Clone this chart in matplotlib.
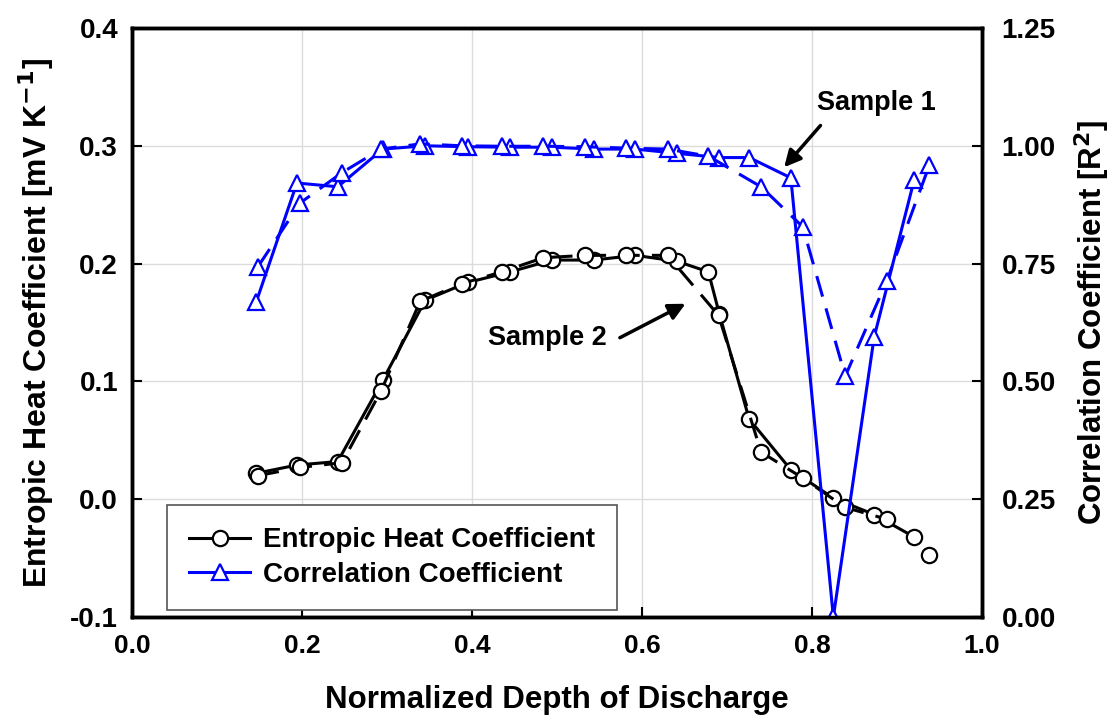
import numpy as np
import matplotlib
matplotlib.use('Agg')
import matplotlib.pyplot as plt
from matplotlib.lines import Line2D

plt.rcParams['font.family'] = ['Liberation Sans', 'DejaVu Sans']

# depth of discharge, sample 1 (solid) and sample 2 (dashed)
dod1 = [0.146, 0.194, 0.242, 0.295, 0.345, 0.395, 0.445, 0.494, 0.543, 0.592,
        0.641, 0.678, 0.691, 0.726, 0.775, 0.825, 0.873, 0.920]
ent1 = [0.022, 0.029, 0.032, 0.101, 0.169, 0.184, 0.193, 0.203, 0.203, 0.207,
        0.202, 0.193, 0.157, 0.068, 0.025, 0.001, -0.013, -0.032]

dod2 = [0.148, 0.198, 0.247, 0.293, 0.339, 0.388, 0.435, 0.484, 0.533, 0.581,
        0.630, 0.690, 0.740, 0.789, 0.839, 0.888, 0.913, 0.938]
ent2 = [0.020, 0.027, 0.031, 0.092, 0.168, 0.183, 0.193, 0.205, 0.207, 0.207,
        0.207, 0.156, 0.040, 0.018, -0.007, -0.017, np.nan, -0.047]

dod_r1 = [0.146, 0.194, 0.242, 0.295, 0.345, 0.395, 0.445, 0.494, 0.543, 0.592,
          0.641, 0.691, 0.726, 0.775, 0.825, 0.873, 0.920]
r2_1 = [0.668, 0.921, 0.913, 0.993, 1.000, 0.998, 0.997, 0.997, 0.993, 0.993,
        0.984, 0.975, 0.975, 0.932, 0.000, 0.594, 0.927]

dod_r2 = [0.148, 0.198, 0.247, 0.293, 0.339, 0.388, 0.435, 0.484, 0.533, 0.581,
          0.630, 0.678, 0.740, 0.789, 0.839, 0.888, 0.938]
r2_2 = [0.743, 0.879, 0.943, 0.993, 1.004, 1.000, 0.999, 0.999, 0.998, 0.995,
        0.993, 0.978, 0.913, 0.828, 0.511, 0.714, 0.959]

xticks = [0.0, 0.2, 0.4, 0.6, 0.8, 1.0]
yticks = [-0.1, 0.0, 0.1, 0.2, 0.3, 0.4]
rticks = [0.0, 0.25, 0.5, 0.75, 1.0, 1.25]

fig = plt.figure(figsize=(11.12, 7.21), dpi=100)
ax = fig.add_axes([0.1187, 0.1442, 0.7645, 0.817])
ax2 = ax.twinx()

mk = dict(markersize=11, markeredgewidth=1.6, markerfacecolor='white')
ax.plot(dod1, ent1, '-', color='black', lw=2.2, marker='o', markeredgecolor='black', **mk)
ax.plot(dod2, ent2, '--', color='black', lw=2.2, dashes=(7, 4), marker='o', markeredgecolor='black', **mk)
ax2.plot(dod_r1, r2_1, '-', color='blue', lw=2.2, marker='^', markeredgecolor='blue', **mk)
ax2.plot(dod_r2, r2_2, '--', color='blue', lw=2.2, dashes=(7, 4), marker='^', markeredgecolor='blue', **mk)

ax.set_xlim(0, 1)
ax.set_ylim(-0.1, 0.4)
ax2.set_ylim(0, 1.25)
ax.set_xticks(xticks)
ax.set_yticks(yticks)
ax2.set_yticks(rticks)
ax.set_xticklabels(['%.1f' % v for v in xticks], fontsize=19, fontweight='bold')
ax.set_yticklabels(['%.1f' % v for v in yticks], fontsize=20, fontweight='bold')
ax2.set_yticklabels(['%.2f' % v for v in rticks], fontsize=20, fontweight='bold')

ax.grid(True, color='#dcdcdc', lw=1)
ax.set_axisbelow(True)

for a in (ax, ax2):
    for s in a.spines.values():
        s.set_linewidth(2.5)
    a.tick_params(direction='in', length=7, width=1.5)
ax.tick_params(axis='y', right=False, pad=10)
ax.tick_params(axis='x', pad=12)
ax2.tick_params(axis='y', left=False, pad=14)

ax.set_xlabel('Normalized Depth of Discharge', fontsize=22.5, fontweight='bold', labelpad=20)
ax.set_ylabel('Entropic Heat Coefficient [mV K$^{\\mathbf{-1}}$]', fontsize=23, fontweight='bold', labelpad=10)
ax2.set_ylabel('Correlation Coefficient [R$^{\\mathbf{2}}$]', fontsize=22.5, fontweight='bold', labelpad=12)

# annotations
ax.text(0.876, 0.336, 'Sample 1', fontsize=19.5, fontweight='bold', ha='center', va='center')
ax.annotate('', xy=(0.765, 0.280), xytext=(0.812, 0.319),
            arrowprops=dict(arrowstyle='-|>', color='black', lw=2.5, mutation_scale=25))
ax.text(0.489, 0.137, 'Sample 2', fontsize=19.5, fontweight='bold', ha='center', va='center')
ax.annotate('', xy=(0.654, 0.167), xytext=(0.571, 0.136),
            arrowprops=dict(arrowstyle='-|>', color='black', lw=2.5, mutation_scale=25))

handles = [Line2D([], [], color='black', lw=2.2, marker='o', markeredgecolor='black', **mk),
           Line2D([], [], color='blue', lw=2.2, marker='^', markeredgecolor='blue', **mk)]
leg = ax2.legend(handles, ['Entropic Heat Coefficient', 'Correlation Coefficient'],
                 loc='lower left', bbox_to_anchor=(0.041, 0.012), borderaxespad=0,
                 fancybox=False, edgecolor='#555555', framealpha=1, handlelength=2.2,
                 handletextpad=0.45, prop={'size': 20, 'weight': 'bold'},
                 borderpad=0.8, labelspacing=0.3)
leg.get_frame().set_linewidth(1.2)

fig.savefig('out.png', dpi=100)
